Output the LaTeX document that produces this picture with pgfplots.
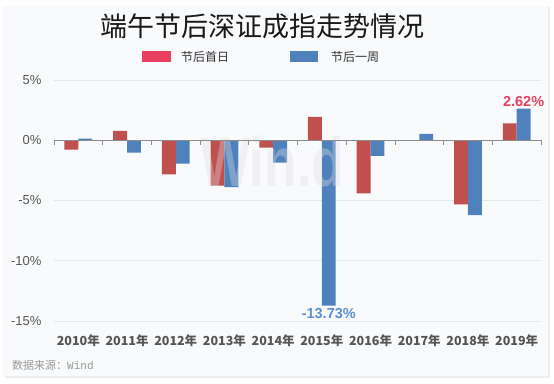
\documentclass[border=0pt]{standalone}
\usepackage{pgfplots}
\pgfplotsset{compat=1.18}
\usepackage{fontspec}
\setmainfont{Liberation Sans}
\setmonofont{Liberation Mono}
\newfontfamily\cjk{Noto Sans CJK SC}
\definecolor{barred}{HTML}{C0504D}
\definecolor{barblue}{HTML}{4F81BD}
\definecolor{legred}{HTML}{E8405E}
\definecolor{annblue}{HTML}{5B8FD0}
\definecolor{cardbg}{HTML}{F9FAFC}
\definecolor{labgray}{HTML}{555555}
\definecolor{gridc}{HTML}{E4E6EA}
\begin{document}
\begin{tikzpicture}[x=1pt,y=1pt]
\fill[white] (0,0) rectangle (554,383);
\fill[black!7] (5,5) rectangle (550,376);
\fill[cardbg] (3,7) rectangle (548,377);
\node[text=black!90] at (262.5,357) {\cjk\fontsize{27}{27}\selectfont 端午节后深证成指走势情况};
\fill[legred] (142,321) rectangle (171,332);
\node[anchor=west,text=black!80,inner sep=0] at (181,326.5) {\cjk\fontsize{12}{12}\selectfont 节后首日};
\fill[barblue] (290,321) rectangle (318,332);
\node[anchor=west,text=black!80,inner sep=0] at (331,326.5) {\cjk\fontsize{12}{12}\selectfont 节后一周};
\node[anchor=west,text=black!40,inner sep=0] at (12,18) {\cjk\fontsize{11}{11}\selectfont 数据来源：\ttfamily Wind};
\begin{axis}[
  at={(54pt,62pt)}, anchor=south west,
  scale only axis, width=487pt, height=241pt,
  xmin=-0.5, xmax=9.5, ymin=-15, ymax=5,
  axis line style={draw=none},
  major tick length=0pt,
  ybar=0pt, bar width=0.285,
  ytick={-15,-10,-5,0,5},
  yticklabels={-15\%,-10\%,-5\%,0\%,5\%},
  ymajorgrids, grid style={draw=gridc, line width=0.7pt},
  xtick={0,...,9},
  xticklabels={2010年,2011年,2012年,2013年,2014年,2015年,2016年,2017年,2018年,2019年},
  xticklabel style={font=\cjk\bfseries\fontsize{12.5}{12.5}\selectfont, text=labgray, yshift=-10pt},
  yticklabel style={font=\fontsize{13}{13}\selectfont, text=labgray, xshift=-9pt},
  /pgf/number format/assume math mode=true,
  clip=false,
]
\addplot[fill=barred, draw=none] coordinates {(0,-0.77) (1,0.78) (2,-2.83) (3,-3.77) (4,-0.61) (5,1.94) (6,-4.40) (7,0) (8,-5.33) (9,1.41)};
\addplot[fill=barblue, draw=none] coordinates {(0,0.13) (1,-1.03) (2,-1.93) (3,-3.90) (4,-1.85) (5,-13.73) (6,-1.29) (7,0.52) (8,-6.22) (9,2.62)};
\node[text=black!12, opacity=0.35, anchor=base, inner sep=0, xscale=0.76] at (axis cs:3.98,-3.87) {\fontsize{70}{70}\selectfont\bfseries Win.d};
\draw[color=black!45, line width=0.8pt] (axis cs:-0.5,0) -- (axis cs:9.5,0);
\pgfplotsinvokeforeach{0,...,10}{
  \draw[color=black!45, line width=0.8pt] ({rel axis cs:0.1*#1,0}|-{axis cs:0,0}) -- ++(0pt,-5pt);
}
\node[text=legred, anchor=south, inner sep=2pt] at (axis cs:9.1425,2.62) {\bfseries\fontsize{14.5}{14.5}\selectfont 2.62\%};
\node[text=annblue, anchor=north, inner sep=2pt] at (axis cs:5.1425,-13.73) {\bfseries\fontsize{14.5}{14.5}\selectfont -13.73\%};
\end{axis}
\end{tikzpicture}
\end{document}
